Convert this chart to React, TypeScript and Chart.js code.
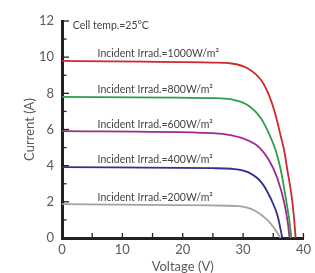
import React, { useEffect, useRef } from "react";
import { Chart, registerables } from "chart.js";

Chart.register(...registerables);

// Irradiance levels (W/m²)
const irradiances = [1000, 800, 600, 400, 200];
const seriesColors = ["#d0262f", "#2e9e4a", "#a3278f", "#2e3192", "#a3a3a3"];

// I-V curves: voltage (V) and current (A)
const volts1000 = [0, 24.9, 28.1, 30.8, 33.0, 34.3, 35.4, 36.2, 36.8, 37.3, 38.1, 38.5, 38.7];
const amps1000 = [9.79, 9.7, 9.65, 9.37, 8.72, 7.89, 6.78, 5.68, 4.85, 3.83, 2.17, 0.87, 0];

const volts800 = [0, 24.9, 28.1, 30.8, 33.0, 34.3, 35.4, 36.2, 37.0, 37.7, 38.0];
const amps800 = [7.8, 7.74, 7.67, 7.34, 6.6, 5.77, 4.85, 3.83, 2.35, 0.87, 0];

const volts600 = [0, 24.9, 28.1, 30.8, 32.7, 34.3, 35.7, 36.8, 37.4, 37.7];
const amps600 = [5.91, 5.8, 5.68, 5.4, 5.0, 4.3, 3.28, 1.98, 0.87, 0];

const volts400 = [0, 24.9, 28.1, 30.8, 33.0, 34.6, 35.7, 36.5];
const amps400 = [3.92, 3.86, 3.83, 3.64, 3.09, 2.17, 1.25, 0];

const volts200 = [0, 24.9, 29.2, 31.9, 34.1, 35.4, 36.2];
const amps200 = [1.87, 1.8, 1.76, 1.52, 0.97, 0.42, 0];

const voltSeries = [volts1000, volts800, volts600, volts400, volts200];
const ampSeries = [amps1000, amps800, amps600, amps400, amps200];

const xTickValues = [0, 10, 20, 30, 40];
const yTickValues = [0, 2, 4, 6, 8, 10, 12];
const xTitle = "Voltage (V)";
const yTitle = "Current (A)";
const tempNote = "Cell temp.=25°C";

const FONT = "Lato, 'Open Sans', sans-serif";
const AXIS_COLOR = "#231f20";
const TEXT_COLOR = "#5a5a5a";

export default function App() {
  const ref = useRef<HTMLCanvasElement | null>(null);

  useEffect(() => {
    if (!ref.current) return;

    const innerTicks = {
      id: "innerTicks",
      afterDatasetsDraw(chart: any) {
        const { ctx, chartArea, scales } = chart;
        const xs = scales.x;
        const ys = scales.y;
        ctx.save();
        ctx.strokeStyle = AXIS_COLOR;
        ctx.lineWidth = 1.3;
        for (let v = 5; v <= 40; v += 5) {
          const px = xs.getPixelForValue(v);
          ctx.beginPath();
          ctx.moveTo(px, chartArea.bottom);
          ctx.lineTo(px, chartArea.bottom - 5);
          ctx.stroke();
        }
        for (let v = 1; v <= 12; v += 1) {
          const py = ys.getPixelForValue(v);
          const len = v % 2 === 0 ? 7 : 4.5;
          ctx.beginPath();
          ctx.moveTo(chartArea.left, py);
          ctx.lineTo(chartArea.left + len, py);
          ctx.stroke();
        }
        // annotations
        ctx.fillStyle = "#444";
        ctx.textBaseline = "alphabetic";
        ctx.textAlign = "left";
        ctx.font = `10.5px ${FONT}`;
        ctx.fillText(tempNote, xs.getPixelForValue(1.8), ys.getPixelForValue(11.55));
        irradiances.forEach((irr, i) => {
          const yv = ampSeries[i][0] + 0.2;
          ctx.fillText(
            `Incident Irrad.=${irr}W/m²`,
            xs.getPixelForValue(5.9),
            ys.getPixelForValue(yv)
          );
        });
        ctx.restore();
      },
    };

    const chart = new Chart(ref.current, {
      type: "line",
      data: {
        datasets: irradiances.map((irr, i) => ({
          label: `${irr}`,
          data: voltSeries[i].map((v, j) => ({ x: v, y: ampSeries[i][j] })),
          borderColor: seriesColors[i],
          borderWidth: 1.8,
          pointRadius: 0,
          fill: false,
          cubicInterpolationMode: "monotone" as const,
        })),
      },
      options: {
        animation: false,
        responsive: false,
        layout: { padding: { top: 21, right: 7, left: 0, bottom: 0 } },
        plugins: { legend: { display: false }, tooltip: { enabled: false } },
        scales: {
          x: {
            type: "linear",
            min: 0,
            max: 40,
            afterFit: (s: any) => {
              s.height = 35;
            },
            afterBuildTicks: (s: any) => {
              s.ticks = xTickValues.map((v) => ({ value: v }));
            },
            grid: { display: false, drawTicks: false },
            border: { display: true, color: AXIS_COLOR, width: 3 },
            ticks: {
              color: TEXT_COLOR,
              padding: 4,
              maxRotation: 0,
              font: { family: FONT, size: 13 },
            },
            title: {
              display: true,
              text: xTitle,
              color: TEXT_COLOR,
              padding: { top: 0, bottom: 0 },
              font: { family: FONT, size: 13, lineHeight: 1 },
            },
          },
          y: {
            type: "linear",
            min: 0,
            max: 12,
            afterFit: (s: any) => {
              s.width = 62;
            },
            afterBuildTicks: (s: any) => {
              s.ticks = yTickValues.map((v) => ({ value: v }));
            },
            grid: { display: false, drawTicks: false },
            border: { display: true, color: AXIS_COLOR, width: 3 },
            ticks: {
              color: TEXT_COLOR,
              padding: 8,
              font: { family: FONT, size: 13 },
            },
            title: {
              display: true,
              text: yTitle,
              color: TEXT_COLOR,
              padding: { top: 23, bottom: 0 },
              font: { family: FONT, size: 13, lineHeight: 1 },
            },
          },
        },
      },
      plugins: [innerTicks],
    });
    return () => chart.destroy();
  }, []);

  return (
    <div style={{ position: "absolute", left: 0, top: 0, width: 315, height: 273, background: "#fff" }}>
      <canvas ref={ref} width={315} height={273} />
    </div>
  );
}
